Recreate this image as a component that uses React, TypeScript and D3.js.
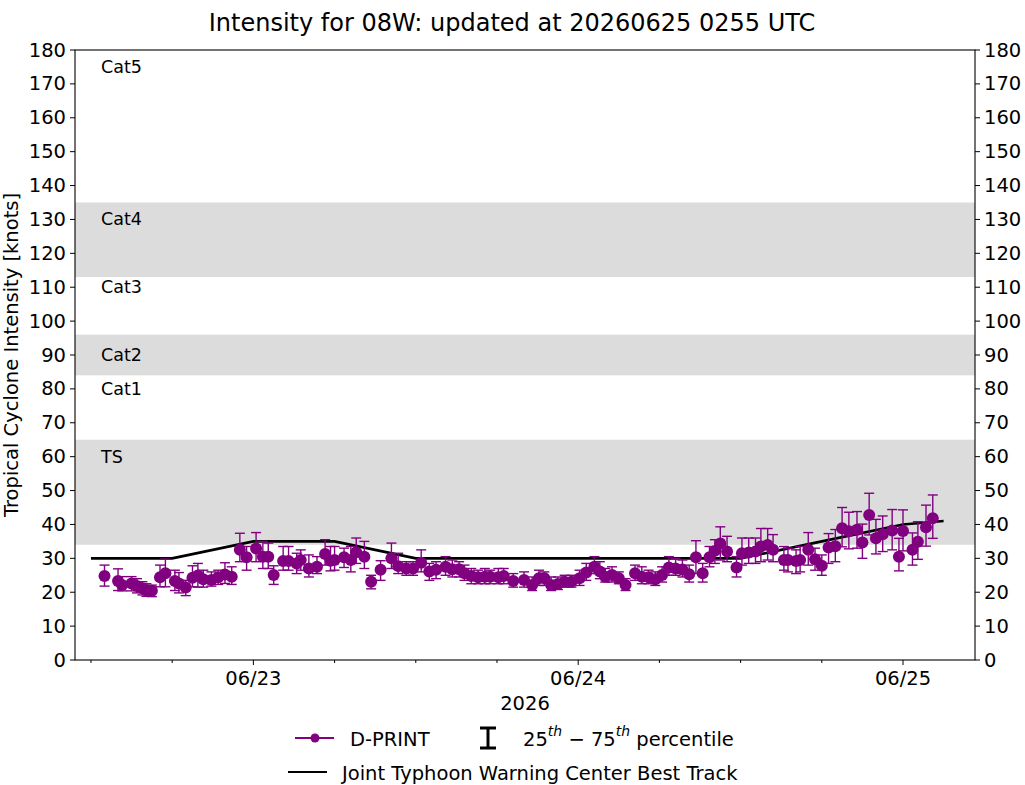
import React from 'react'
import { scaleUtc, scaleLinear, line, range, utcDay, utcHour, utcFormat } from 'd3'

// hours after 2026-06-22 00 UTC
const dprintHours = [
  13.0, 14.0, 14.3, 15.0, 15.4, 15.8, 16.1, 16.5, 17.1, 17.5,
  18.2, 18.5, 19.0, 19.5, 19.9, 20.3, 20.9, 21.4, 21.9, 22.4,
  23.0, 23.5, 24.2, 24.7, 25.1, 25.5, 26.2, 26.6, 27.2, 27.5,
  28.1, 28.7, 29.3, 29.7, 30.0, 30.7, 31.2, 31.6, 32.2, 32.7,
  33.4, 34.2, 34.7, 35.3, 35.8, 36.4, 37.0, 37.5, 38.2, 38.7,
  39.2, 39.6, 40.1, 40.6, 41.1, 41.5, 42.1, 42.5, 43.2, 44.0,
  44.6, 45.1, 45.5, 46.0, 46.5, 47.0, 47.5, 48.1, 48.6, 49.2,
  49.6, 50.0, 50.5, 51.0, 51.5, 52.2, 52.7, 53.2, 53.7, 54.2,
  54.7, 55.2, 55.7, 56.2, 56.7, 57.2, 57.7, 58.1, 58.5, 59.0,
  59.7, 60.1, 60.6, 61.1, 61.5, 62.0, 62.4, 63.2, 63.5, 64.1,
  64.4, 65.0, 65.5, 66.0, 66.5, 67.0, 67.5, 68.0, 68.6, 69.0,
  69.5, 70.0, 70.5, 71.2, 71.7, 72.0, 72.7, 73.1, 73.7, 74.2,
]
const dprintKt = [
  24.8, 23.3, 22.1, 22.6, 21.8, 21.2, 20.6, 20.4, 24.4, 25.6,
  23.3, 22.6, 21.4, 24.3, 24.9, 23.8, 23.6, 24.4, 25.2, 24.6,
  32.5, 30.3, 32.9, 30.5, 30.5, 25.1, 29.2, 29.2, 28.5, 29.5,
  27.0, 27.5, 31.3, 29.3, 29.5, 30.3, 29.5, 31.8, 30.5, 23.1,
  26.6, 30.0, 27.7, 27.0, 27.0, 28.7, 26.1, 26.6, 27.5, 26.8,
  26.8, 25.6, 24.8, 24.4, 24.6, 24.6, 24.4, 24.8, 23.3, 23.6,
  22.1, 24.1, 24.1, 22.1, 22.4, 23.1, 23.1, 24.1, 25.8, 27.5,
  26.1, 24.6, 25.1, 24.1, 22.1, 25.6, 24.6, 24.4, 23.8, 25.1,
  27.3, 27.0, 26.7, 25.3, 30.3, 25.6, 30.3, 32.2, 34.4, 32.0,
  27.3, 31.5, 31.7, 32.0, 33.5, 33.9, 32.5, 29.5, 29.5, 29.2,
  29.5, 32.5, 29.7, 27.8, 33.2, 33.6, 38.9, 38.0, 38.4, 34.7,
  42.8, 35.9, 37.1, 38.2, 30.5, 38.1, 32.5, 34.9, 39.2, 41.8,
]
const dprintP25 = [
  21.8, 20.5, 20.4, 20.4, 19.8, 19.2, 18.8, 18.7, 21.6, 21.6,
  20.5, 19.8, 19.0, 21.6, 21.5, 21.5, 21.8, 22.3, 22.6, 22.3,
  29.0, 26.5, 29.0, 27.0, 27.0, 22.3, 26.5, 26.5, 25.5, 26.5,
  24.5, 25.5, 28.0, 26.3, 26.5, 27.3, 26.0, 28.5, 27.0, 21.0,
  23.5, 27.0, 25.5, 25.0, 25.0, 26.0, 23.5, 24.0, 25.0, 24.5,
  24.5, 23.5, 22.5, 22.5, 22.5, 22.5, 22.5, 22.5, 21.5, 21.5,
  20.5, 22.0, 22.0, 20.5, 20.8, 21.5, 21.5, 22.0, 23.5, 25.5,
  24.0, 23.0, 23.0, 22.5, 20.5, 23.5, 22.5, 22.5, 22.0, 23.0,
  25.0, 25.0, 24.5, 23.0, 25.5, 23.0, 27.5, 28.5, 29.5, 29.0,
  24.5, 28.0, 28.5, 28.5, 29.0, 29.5, 29.0, 26.5, 26.0, 25.5,
  26.0, 28.0, 26.5, 25.0, 28.5, 29.0, 33.4, 32.8, 33.0, 30.0,
  36.9, 31.3, 32.0, 32.5, 26.3, 32.2, 28.0, 29.7, 33.6, 35.9,
]
const dprintP75 = [
  28.0, 26.9, 24.6, 24.6, 24.0, 23.1, 22.5, 22.1, 28.0, 29.8,
  26.5, 25.8, 23.5, 27.8, 28.5, 26.5, 26.0, 26.5, 28.7, 27.5,
  37.4, 33.5, 37.6, 35.0, 34.5, 27.8, 33.5, 33.5, 31.5, 32.5,
  31.0, 30.5, 35.5, 33.5, 33.5, 33.0, 33.5, 36.0, 35.0, 25.0,
  29.3, 34.5, 31.5, 29.0, 29.0, 32.5, 28.5, 29.0, 30.5, 29.5,
  29.0, 28.0, 27.0, 26.5, 27.0, 26.5, 27.0, 27.0, 25.5, 26.0,
  24.5, 26.5, 26.0, 24.5, 24.5, 25.0, 25.0, 26.5, 28.5, 30.5,
  29.0, 27.0, 27.5, 26.0, 24.0, 28.0, 27.5, 26.5, 26.0, 27.5,
  30.5, 30.0, 29.5, 28.0, 35.2, 28.5, 33.5, 35.5, 39.3, 36.5,
  30.5, 36.0, 36.0, 36.0, 38.8, 38.8, 37.0, 33.5, 33.0, 32.5,
  33.5, 37.6, 33.0, 31.0, 37.3, 38.5, 45.0, 43.6, 43.8, 40.1,
  49.2, 41.5, 42.5, 44.4, 35.9, 44.3, 37.5, 40.8, 45.7, 48.7,
]

// JTWC best track
const bestHours = [12, 18, 24, 30, 36, 42, 48, 54, 60, 66, 72, 75]
const bestKt = [30, 30, 35, 35, 30, 30, 30, 30, 30, 35, 40, 41]

const bandNames = ['TS', 'Cat2', 'Cat4']
const bandLow = [34, 84, 113]
const bandHigh = [65, 96, 135]

const catNames = ['Cat5', 'Cat4', 'Cat3', 'Cat2', 'Cat1', 'TS']
const catLabelKt = [175, 130, 110, 90, 80, 60]

const yTicks = range(0, 181, 10)

const base = Date.UTC(2026, 5, 22)
const hr = (h: number) => new Date(base + h * 3600e3)

export default function App() {
  const width = 1025
  const height = 785
  const margin = { top: 50, right: 50, bottom: 125, left: 75 }
  const font = 'DejaVu Sans, sans-serif'
  const purple = '#800080'
  const fs = 19.5

  const x = scaleUtc()
    .domain([hr(10.82), hr(77.32)])
    .range([margin.left, width - margin.right])

  const y = scaleLinear()
    .domain([0, 180])
    .range([height - margin.bottom, margin.top])

  const x0 = margin.left
  const x1 = width - margin.right
  const y0 = height - margin.bottom
  const y1 = margin.top

  const majorTicks = utcDay.range(x.domain()[0], x.domain()[1])
  const minorTicks = utcHour.every(6)!.range(x.domain()[0], x.domain()[1])
    .filter(d => d.getUTCHours() !== 0)
  const fmt = utcFormat('%m/%d')

  const bestLine = line<number>()
    .x((_, i) => x(hr(bestHours[i])))
    .y(d => y(d))

  return (
    <svg width={width} height={height} style={{ position: 'absolute', left: 0, top: 0 }}
      fontFamily={font}>
      <rect width={width} height={height} fill="white" />

      <text x={512} y={23} textAnchor="middle" dominantBaseline="central" fontSize={24}>
        Intensity for 08W: updated at 20260625 0255 UTC
      </text>

      {/* category bands */}
      {bandNames.map((n, i) => (
        <rect key={n} x={x0} width={x1 - x0} y={y(bandHigh[i])}
          height={y(bandLow[i]) - y(bandHigh[i])} fill="#dcdcdc" />
      ))}
      {catNames.map((n, i) => (
        <text key={n} x={101} y={y(catLabelKt[i])} dominantBaseline="central" fontSize={17.5}>{n}</text>
      ))}

      {/* best track */}
      <path d={bestLine(bestKt) ?? ''} fill="none" stroke="black" strokeWidth={2.6} />

      {/* D-PRINT with 25-75 percentile bars */}
      <g stroke={purple} strokeWidth={1.4}>
        {dprintKt.map((v, i) => {
          const cx = x(hr(dprintHours[i]))
          return (
            <g key={i}>
              <line x1={cx} x2={cx} y1={y(dprintP25[i])} y2={y(dprintP75[i])} />
              <line x1={cx - 5} x2={cx + 5} y1={y(dprintP25[i])} y2={y(dprintP25[i])} />
              <line x1={cx - 5} x2={cx + 5} y1={y(dprintP75[i])} y2={y(dprintP75[i])} />
            </g>
          )
        })}
      </g>
      <g fill={purple}>
        {dprintKt.map((v, i) => (
          <circle key={i} cx={x(hr(dprintHours[i]))} cy={y(v)} r={6} />
        ))}
      </g>

      {/* frame */}
      <rect x={x0} y={y1} width={x1 - x0} height={y0 - y1} fill="none" stroke="black" strokeWidth={1.1} />

      {/* y axes, both sides */}
      {yTicks.map(t => (
        <g key={t} fontSize={fs}>
          <line x1={x0 - 5} x2={x0} y1={y(t)} y2={y(t)} stroke="black" />
          <line x1={x1} x2={x1 + 5} y1={y(t)} y2={y(t)} stroke="black" />
          <text x={x0 - 9} y={y(t)} textAnchor="end" dominantBaseline="central">{t}</text>
          <text x={x1 + 9} y={y(t)} dominantBaseline="central">{t}</text>
        </g>
      ))}
      <text transform={`translate(11,${(y0 + y1) / 2}) rotate(-90)`} textAnchor="middle"
        dominantBaseline="central" fontSize={fs}>
        Tropical Cyclone Intensity [knots]
      </text>

      {/* x axis */}
      {minorTicks.map(d => (
        <line key={+d} x1={x(d)} x2={x(d)} y1={y0} y2={y0 + 3} stroke="black" />
      ))}
      {majorTicks.filter(d => x(d) > x0).map(d => (
        <g key={+d}>
          <line x1={x(d)} x2={x(d)} y1={y0} y2={y0 + 5} stroke="black" />
          <text x={x(d)} y={y0 + 18} textAnchor="middle" dominantBaseline="central" fontSize={fs}>
            {fmt(d)}
          </text>
        </g>
      ))}
      <text x={(x0 + x1) / 2} y={703} textAnchor="middle" dominantBaseline="central" fontSize={fs}>2026</text>

      {/* legend */}
      <g fontSize={fs}>
        <line x1={295} x2={334} y1={738} y2={738} stroke={purple} strokeWidth={2} />
        <circle cx={315} cy={738} r={4.5} fill={purple} />
        <text x={350} y={739} dominantBaseline="central">D-PRINT</text>

        <g stroke="black" strokeWidth={3}>
          <line x1={488} x2={488} y1={728} y2={748} />
          <line x1={480} x2={496} y1={728} y2={728} />
          <line x1={480} x2={496} y1={748} y2={748} />
        </g>
        <text x={523} y={739} dominantBaseline="central">
          25<tspan fontSize={14} fontStyle="italic" dy={-8}>th</tspan>
          <tspan dy={8}> − 75</tspan>
          <tspan fontSize={14} fontStyle="italic" dy={-8}>th</tspan>
          <tspan dy={8}> percentile</tspan>
        </text>

        <line x1={288} x2={327} y1={772} y2={772} stroke="black" strokeWidth={2} />
        <text x={342} y={773} dominantBaseline="central">Joint Typhoon Warning Center Best Track</text>
      </g>
    </svg>
  )
}
